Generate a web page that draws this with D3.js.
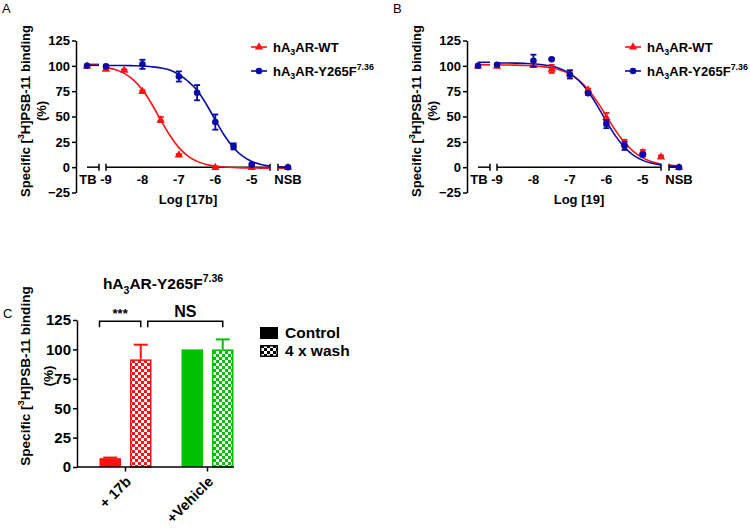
<!DOCTYPE html>
<html><head><meta charset="utf-8">
<script src="https://cdn.jsdelivr.net/npm/d3@7"></script>
<style>
body{margin:0;background:#fff;}
svg text{font-family:"Liberation Sans",Arial,sans-serif;font-weight:bold;fill:#000;}
svg text.plabel{font-weight:normal;}
</style></head><body>
<svg id="c" width="750" height="528"></svg>
<script>
// ================= DATA =================
const yTicksAB = [-25, 0, 25, 50, 75, 100, 125];
const xTickValuesAB = ["TB", -9, -8, -7, -6, -5, "NSB"];
const xTickLabelsAB = ["TB", "-9", "-8", "-7", "-6", "-5", "NSB"];

// Panel A : competitor 17b
const a_wt_x  = ["TB", -9, -8.5, -8, -7.5, -7, -6, -5, "NSB"];
const a_wt_y  = [100, 97, 96, 75, 47, 12.5, 0, 0, 0];
const a_wt_e  = [0.5, 1, 0.5, 1, 2.5, 0.5, 0.5, 0.5, 0.5];
const a_mut_x = ["TB", -9, -8, -7, -6.5, -6, -5.5, -5, "NSB"];
const a_mut_y = [100, 99.5, 101.5, 89.5, 73.5, 44.5, 20.5, 2.5, 0];
const a_mut_e = [0.5, 1, 4.5, 5, 7.5, 7.5, 3, 1, 0.5];

// Panel B : competitor 19
const b_wt_x  = ["TB", -9, -8, -7.5, -7, -6.5, -6, -5.5, -5, -4.5, "NSB"];
const b_wt_y  = [100, 100, 101, 97, 92.5, 76.5, 49.5, 24, 15, 10.5, 0];
const b_wt_e  = [0.5, 1, 1, 4, 3, 1, 4, 3, 2, 1, 0.5];
const b_mut_x = ["TB", -9, -8, -7.5, -7, -6.5, -6, -5.5, -5, "NSB"];
const b_mut_y = [100, 101, 105, 106.5, 91.5, 73, 42.5, 21, 12.5, 0];
const b_mut_e = [0.5, 1, 6, 0.5, 4, 1.5, 4, 4, 2, 0.5];

// fitted curves, values
const curveX    = [-9, -8.75, -8.5, -8.25, -8, -7.75, -7.5, -7.25, -7, -6.75, -6.5, -6.25, -6, -5.75, -5.5, -5.25, -5, -4.75, -4.5];
const a_wt_fit  = [98.5, 96.3, 92.6, 86.2, 76.3, 62.6, 46.8, 31.5, 19.3, 10.9, 5.7, 2.7, 1.0, 0.1, -0.4, -0.7, -0.85, -0.9, -1];
const a_mut_fit = [100.4, 100.3, 100.3, 100.1, 99.8, 99.1, 98.0, 95.9, 91.5, 84.8, 75.9, 62.3, 46.5, 31.3, 19.2, 10.8, 5.6, 2.6, 1.0];
const b_wt_fit  = [100.9, 100.8, 100.7, 100.4, 100.0, 99.2, 97.9, 95.6, 91.8, 85.7, 76.7, 64.7, 50.5, 36.3, 24.3, 15.3, 9.2, 5.4, 3.1];
const b_mut_fit = [102.9, 102.8, 102.7, 102.4, 102.0, 101.1, 99.6, 97.0, 92.5, 85.3, 74.6, 60.8, 45.3, 30.9, 19.5, 11.7, 6.7, 3.8, 2.1];
// curve pieces inside the TB and NSB axis segments
const tbFitX   = [-10, -9.67];
const nsbFitX  = [-4.33, -4];
const a_wt_tb  = [101.5, 101.5];  const a_mut_tb  = [100.5, 100.5];
const a_wt_nsb = [-1, -1];        const a_mut_nsb = [0.3, -0.2];
const b_wt_tb  = [101, 101];      const b_mut_tb  = [103.5, 103.5];
const b_wt_nsb = [2.0, 1.0];      const b_mut_nsb = [1.2, 0.6];

// Panel C
const groupsC    = ["+ 17b", "+Vehicle"];
const treatC     = ["Control", "4 x wash"];
const controlC   = [7.5, 100];
const washC      = [91.5, 100];
const controlErr = [0.5, 0];
const washErr    = [12.5, 8.5];
const yTicksC    = [0, 25, 50, 75, 100, 125];
const sigLabels  = ["***", "NS"];

// ================= STYLE =================
const RED = "#ff1111", BLUE = "#0a0aa6", GREEN = "#00c000";
const svg = d3.select("#c");

function rich(sel, parts, small) {
  let shift = 0;
  parts.forEach(([t, kind]) => {
    const ts = sel.append("tspan").text(t);
    let target = kind === "sub" ? 0.3 : kind === "sup" ? -0.45 : 0;
    const base = parseFloat(sel.attr("font-size"));
    const dy = (target - shift) * base;
    if (dy !== 0) ts.attr("dy", dy);
    if (kind) ts.attr("font-size", base * (small || 0.68));
    shift = target;
  });
}

// pattern defs
const defs = svg.append("defs");
[["chk-red", RED], ["chk-green", GREEN], ["chk-black", "#000"]].forEach(([id, col]) => {
  const p = defs.append("pattern").attr("id", id).attr("patternUnits", "userSpaceOnUse")
    .attr("width", 6).attr("height", 6);
  p.append("rect").attr("width", 6).attr("height", 6).attr("fill", "#fff");
  p.append("rect").attr("width", 3).attr("height", 3).attr("fill", col);
  p.append("rect").attr("x", 3).attr("y", 3).attr("width", 3).attr("height", 3).attr("fill", col);
});

// ================= PANELS A / B =================
function curvePanel(cfg) {
  const ox = cfg.ox;
  const g = svg.append("g");
  const y = d3.scaleLinear().domain([-25, 125]).range([192.5, 40.5]);
  const xTB = d3.scaleLinear().domain(tbFitX).range([87 + ox, 99 + ox]);
  const xMain = d3.scaleLinear().domain([-9, -4.5]).range([106 + ox, 270 + ox]);
  const xNSB = d3.scaleLinear().domain(nsbFitX).range([278 + ox, 288 + ox]);
  const xMap = v => v === "TB" ? xTB(tbFitX[0]) : v === "NSB" ? xNSB(nsbFitX[1]) : xMain(v);

  g.append("text").attr("class", "plabel").attr("x", 2 + ox).attr("y", 12.5)
    .attr("font-size", 13).text(cfg.letter);

  const ya = g.append("g").attr("transform", `translate(${76 + ox},0)`)
    .call(d3.axisLeft(y).tickValues(yTicksAB).tickSize(4).tickSizeOuter(0).tickPadding(2));
  ya.select(".domain").attr("stroke-width", 1.5);
  ya.selectAll(".tick line").attr("stroke-width", 1.5);
  ya.selectAll(".tick text").attr("font-size", 13);

  const yt = g.append("g").attr("transform", `translate(0,111)`);
  const t1 = yt.append("text").attr("transform", `translate(${25.5 + ox},0) rotate(-90)`)
    .attr("text-anchor", "middle").attr("dy", "0.35em").attr("font-size", 13);
  rich(t1, [["Specific [", null], ["3", "sup"], ["H]PSB-11 binding", null]]);
  yt.append("text").attr("transform", `translate(${41.5 + ox},0) rotate(-90)`)
    .attr("text-anchor", "middle").attr("dy", "0.35em").attr("font-size", 13).text("(%)");

  const y0 = y(0);
  const segs = [[xTB.range(), [false, true]], [xMain.range(), [true, true]], [xNSB.range(), [true, false]]];
  segs.forEach(([r, caps]) => {
    g.append("line").attr("x1", r[0]).attr("x2", r[1]).attr("y1", y0).attr("y2", y0)
      .attr("stroke", "#000").attr("stroke-width", 1.5);
    r.forEach((xx, i) => {
      if (caps[i]) g.append("line").attr("x1", xx).attr("x2", xx).attr("y1", y0 - 3.5).attr("y2", y0 + 3.5)
        .attr("stroke", "#000").attr("stroke-width", 1.5);
    });
  });
  g.selectAll(".xl").data(xTickValuesAB).join("text").attr("class", "xl")
    .attr("x", (d, i) => xMap(d) + (d === "TB" ? 1 : 0)).attr("y", 184)
    .attr("text-anchor", "middle").attr("font-size", 13)
    .text((d, i) => xTickLabelsAB[i]);
  g.append("text").attr("x", d3.mean(xMain.range())).attr("y", 204)
    .attr("text-anchor", "middle").attr("font-size", 13).text(cfg.xTitle);

  const series = [
    {col: RED, sym: d3.symbolTriangle, x: cfg.wt[0], yv: cfg.wt[1], e: cfg.wt[2], fit: cfg.wt[3], tb: cfg.wt[4], nsb: cfg.wt[5]},
    {col: BLUE, sym: d3.symbolCircle, x: cfg.mut[0], yv: cfg.mut[1], e: cfg.mut[2], fit: cfg.mut[3], tb: cfg.mut[4], nsb: cfg.mut[5]}
  ];
  series.forEach(s => {
    const lineMain = d3.line().x(d => xMain(d[0])).y(d => y(d[1])).curve(d3.curveMonotoneX);
    g.append("path").attr("d", lineMain(d3.zip(curveX, s.fit))).attr("fill", "none")
      .attr("stroke", s.col).attr("stroke-width", 1.6);
    const lineTB = d3.line().x(d => xTB(d[0])).y(d => y(d[1]));
    g.append("path").attr("d", lineTB(d3.zip(tbFitX, s.tb))).attr("fill", "none")
      .attr("stroke", s.col).attr("stroke-width", 1.6);
    const lineN = d3.line().x(d => xNSB(d[0])).y(d => y(d[1]));
    g.append("path").attr("d", lineN(d3.zip(nsbFitX, s.nsb))).attr("fill", "none")
      .attr("stroke", s.col).attr("stroke-width", 1.6);
  });
  series.forEach(s => {
    const pts = d3.zip(s.x, s.yv, s.e);
    pts.forEach(([xv, yv, e]) => {
      const px = xMap(xv);
      if (e > 0) {
        g.append("line").attr("x1", px).attr("x2", px).attr("y1", y(yv - e)).attr("y2", y(yv + e))
          .attr("stroke", s.col).attr("stroke-width", 1.8);
        [yv - e, yv + e].forEach(v => g.append("line").attr("x1", px - 3).attr("x2", px + 3)
          .attr("y1", y(v)).attr("y2", y(v)).attr("stroke", s.col).attr("stroke-width", 1.8));
      }
      g.append("path").attr("d", d3.symbol(s.sym, s.sym === d3.symbolCircle ? 34 : 30)())
        .attr("transform", `translate(${px},${y(yv) + (s.sym === d3.symbolTriangle ? 0.5 : 0)})`)
        .attr("fill", s.col);
    });
  });

  const lx = cfg.legX;
  [[RED, d3.symbolTriangle, [["hA", null], ["3", "sub"], ["AR-WT", null]], 47],
   [BLUE, d3.symbolCircle, [["hA", null], ["3", "sub"], ["AR-Y265F", null], ["7.36", "sup"]], 71]]
  .forEach(([col, sym, parts, ly]) => {
    g.append("line").attr("x1", lx).attr("x2", lx + 16).attr("y1", ly).attr("y2", ly)
      .attr("stroke", col).attr("stroke-width", 1.6);
    g.append("path").attr("d", d3.symbol(sym, sym === d3.symbolCircle ? 34 : 30)())
      .attr("transform", `translate(${lx + 8},${ly})`).attr("fill", col);
    const t = g.append("text").attr("x", lx + 22).attr("y", ly + 4.5).attr("font-size", 13);
    rich(t, parts);
  });
}

curvePanel({ox: 0, letter: "A", xTitle: "Log [17b]", legX: 251,
  wt: [a_wt_x, a_wt_y, a_wt_e, a_wt_fit, a_wt_tb, a_wt_nsb],
  mut: [a_mut_x, a_mut_y, a_mut_e, a_mut_fit, a_mut_tb, a_mut_nsb]});
curvePanel({ox: 391, letter: "B", xTitle: "Log [19]", legX: 625,
  wt: [b_wt_x, b_wt_y, b_wt_e, b_wt_fit, b_wt_tb, b_wt_nsb],
  mut: [b_mut_x, b_mut_y, b_mut_e, b_mut_fit, b_mut_tb, b_mut_nsb]});

// ================= PANEL C =================
(function () {
  const g = svg.append("g");
  const y = d3.scaleLinear().domain([0, 125]).range([467, 320]);
  const x0 = d3.scaleBand().domain(groupsC).range([84.5, 248.5]);
  const x1 = d3.scaleBand().domain(treatC).range([0, 52]).paddingInner(0.295);
  const barX = (gi, ti) => x0(groupsC[gi]) + x0.bandwidth() / 2 - 26 + x1(treatC[ti]);
  const colors = [RED, GREEN];
  const pats = ["url(#chk-red)", "url(#chk-green)"];

  g.append("text").attr("class", "plabel").attr("x", 3).attr("y", 318).attr("font-size", 13).text("C");

  const title = g.append("text").attr("x", 163).attr("y", 289).attr("text-anchor", "middle").attr("font-size", 15.5);
  rich(title, [["hA", null], ["3", "sub"], ["AR-Y265F", null], ["7.36", "sup"]]);

  const ya = g.append("g").attr("transform", "translate(77,0)")
    .call(d3.axisLeft(y).tickValues(yTicksC).tickSize(4).tickSizeOuter(0).tickPadding(2));
  ya.select(".domain").attr("stroke-width", 1.5);
  ya.selectAll(".tick line").attr("stroke-width", 1.5);
  ya.selectAll(".tick text").attr("font-size", 15);

  const yt = g.append("g").attr("transform", "translate(0,376)");
  const t1 = yt.append("text").attr("transform", "translate(25,0) rotate(-90)")
    .attr("text-anchor", "middle").attr("dy", "0.35em").attr("font-size", 13.6);
  rich(t1, [["Specific [", null], ["3", "sup"], ["H]PSB-11 binding", null]]);
  yt.append("text").attr("transform", "translate(48,0) rotate(-90)")
    .attr("text-anchor", "middle").attr("dy", "0.35em").attr("font-size", 13.6).text("(%)");

  groupsC.forEach((gname, gi) => {
    const bw = x1.bandwidth();
    const cx = barX(gi, 0);
    if (controlErr[gi] > 0) {
      const mx = cx + bw / 2;
      g.append("line").attr("x1", mx).attr("x2", mx).attr("y1", y(controlC[gi])).attr("y2", y(controlC[gi] + controlErr[gi]))
        .attr("stroke", colors[gi]).attr("stroke-width", 2);
      g.append("line").attr("x1", mx - 7).attr("x2", mx + 7).attr("y1", y(controlC[gi] + controlErr[gi])).attr("y2", y(controlC[gi] + controlErr[gi]))
        .attr("stroke", colors[gi]).attr("stroke-width", 2);
    }
    g.append("rect").attr("x", cx).attr("width", bw).attr("y", y(controlC[gi]))
      .attr("height", y(0) - y(controlC[gi])).attr("fill", colors[gi]);
    const wx = barX(gi, 1);
    const mx = wx + bw / 2;
    g.append("line").attr("x1", mx).attr("x2", mx).attr("y1", y(washC[gi])).attr("y2", y(washC[gi] + washErr[gi]))
      .attr("stroke", colors[gi]).attr("stroke-width", 2);
    g.append("line").attr("x1", mx - 7).attr("x2", mx + 7).attr("y1", y(washC[gi] + washErr[gi])).attr("y2", y(washC[gi] + washErr[gi]))
      .attr("stroke", colors[gi]).attr("stroke-width", 2);
    g.append("rect").attr("x", wx + 0.75).attr("width", bw - 1.5).attr("y", y(washC[gi]) + 0.75)
      .attr("height", y(0) - y(washC[gi]) - 0.75).attr("fill", pats[gi])
      .attr("stroke", colors[gi]).attr("stroke-width", 1.5);
  });

  g.append("line").attr("x1", 77).attr("x2", 234).attr("y1", y(0)).attr("y2", y(0))
    .attr("stroke", "#000").attr("stroke-width", 1.5);
  const xa = g.append("g").attr("transform", `translate(0,${y(0)})`)
    .call(d3.axisBottom(x0).tickSize(4.5).tickFormat(""));
  xa.select(".domain").remove();
  xa.selectAll(".tick line").attr("stroke-width", 1.5);
  g.selectAll(".cxl").data(groupsC).join("text").attr("class", "cxl")
    .attr("transform", d => `translate(${x0(d) + x0.bandwidth() / 2 + 3},479) rotate(-45)`)
    .attr("text-anchor", "end").attr("dy", "0.35em").attr("font-size", 14.5).text(d => d);

  const bw = x1.bandwidth();
  const yb = y(124);
  const br = [
    [barX(0, 0), barX(0, 1) + bw / 2, sigLabels[0], 13, 3],
    [barX(0, 1) + bw / 2 + 7, barX(1, 1) + bw / 2, sigLabels[1], 16, 4.5]
  ];
  br.forEach(([xa1, xa2, lab, fs, off]) => {
    g.append("path").attr("d", `M${xa1},${yb + 6}V${yb}H${xa2}V${yb + 6}`)
      .attr("fill", "none").attr("stroke", "#000").attr("stroke-width", 1.5);
    g.append("text").attr("x", (xa1 + xa2) / 2).attr("y", yb - off).attr("text-anchor", "middle")
      .attr("font-size", fs).text(lab);
  });

  const lg = [["#000", treatC[0], 327], ["url(#chk-black)", treatC[1], 345]];
  lg.forEach(([fill, lab, ly]) => {
    g.append("rect").attr("x", 260.75).attr("y", ly + 0.75).attr("width", 16.5).attr("height", 10.5)
      .attr("fill", fill).attr("stroke", "#000").attr("stroke-width", 1.5);
    g.append("text").attr("x", 285).attr("y", ly + 11).attr("font-size", 15.5).text(lab);
  });
})();
</script>
</body></html>
